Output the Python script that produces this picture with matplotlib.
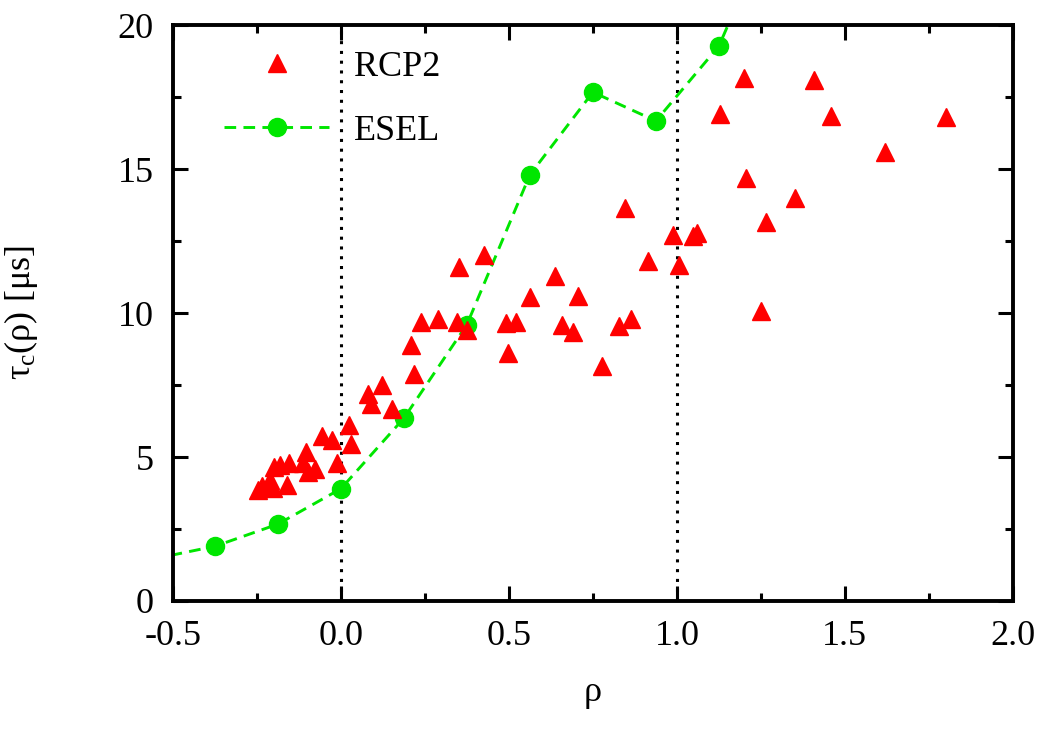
import numpy as np
import matplotlib
matplotlib.use("Agg")
import matplotlib.pyplot as plt
from matplotlib.ticker import MultipleLocator

# RCP2 probe data
rcp2_rho = [-0.247, -0.236, -0.21, -0.203, -0.20, -0.18, -0.162, -0.155,
            -0.114, -0.104, -0.098, -0.077, -0.057, -0.028, -0.013,
            0.024, 0.029, 0.08, 0.089, 0.122, 0.152, 0.208, 0.217, 0.238,
            0.289, 0.345, 0.375, 0.351, 0.425, 0.49, 0.52, 0.497, 0.5625,
            0.637, 0.657, 0.69, 0.705, 0.777, 0.827, 0.863, 0.845, 0.914,
            0.988, 1.006, 1.048, 1.06, 1.128, 1.20, 1.205, 1.25, 1.265,
            1.351, 1.408, 1.458, 1.62, 1.80]
rcp2_tau = [3.85, 4.0, 4.2, 3.92, 4.66, 4.72, 4.03, 4.8,
            4.8, 5.18, 4.49, 4.58, 5.73, 5.6, 4.8,
            6.1, 5.45, 7.2, 6.85, 7.5, 6.67, 8.9, 7.9, 9.7,
            9.8, 9.7, 9.4, 11.6, 12.0, 9.65, 9.7, 8.6, 10.55,
            11.3, 9.6, 9.35, 10.6, 8.15, 9.55, 9.8, 13.65, 11.8,
            12.7, 11.67, 12.67, 12.78, 16.9, 18.15, 14.7, 10.07, 13.15,
            14.0, 18.1, 16.85, 15.6, 16.8]

# ESEL simulation
esel_rho = [-0.5625, -0.375, -0.1875, 0.0, 0.1875, 0.375, 0.5625, 0.75,
            0.9375, 1.125, 1.3125]
esel_tau = [1.45, 1.9, 2.67, 3.9, 6.35, 9.6, 14.8, 17.67, 16.67, 19.27, 24.3]

plt.rcParams['font.family'] = ['Liberation Serif', 'DejaVu Serif']
plt.rcParams['mathtext.fontset'] = 'custom'
plt.rcParams['mathtext.rm'] = 'Liberation Serif'
plt.rcParams['mathtext.it'] = 'Liberation Serif'

fig = plt.figure(figsize=(10.42, 7.29), dpi=100)
ax = fig.add_axes([0.166, 0.1756, 0.806, 0.790])

ax.axvline(0.0, color='black', ls=(0, (1, 2.2)), lw=2.2, zorder=1)
ax.axvline(1.0, color='black', ls=(0, (1, 2.2)), lw=2.2, zorder=1)

ax.plot(rcp2_rho, rcp2_tau, ls='none', marker='^', ms=13, color='#ff0000',
        mec='#ff0000', label='RCP2', zorder=3)
ax.plot(esel_rho, esel_tau, ls=(0, (4, 2.5)), lw=2.1, color='#00e600',
        marker='o', ms=13, label='ESEL', zorder=2)

ax.set_xlim(-0.5, 2.0)
ax.set_ylim(0, 20)
ax.xaxis.set_major_locator(MultipleLocator(0.5))
ax.xaxis.set_minor_locator(MultipleLocator(0.25))
ax.yaxis.set_major_locator(MultipleLocator(5))
ax.yaxis.set_minor_locator(MultipleLocator(2.5))
ax.set_xticklabels([f"{v:.1f}" for v in ax.get_xticks()])
ax.tick_params(which='both', direction='in', top=True, right=True,
               labelsize=26, width=2.2)
ax.tick_params(which='major', length=11, pad=14)
ax.tick_params(which='minor', length=6)
for s in ax.spines.values():
    s.set_linewidth(2.8)

ax.set_xlabel('ρ', fontsize=26, labelpad=16)
ax.set_ylabel('τ$_\\mathrm{c}$(ρ) [μs]', fontsize=26, labelpad=56)

ax.legend(loc='upper left', frameon=False, fontsize=26, handlelength=2.9,
          handletextpad=0.7, labelspacing=0.85, borderaxespad=0.3,
          bbox_to_anchor=(0.031, 1.0))

fig.savefig('out.png', dpi=100)
